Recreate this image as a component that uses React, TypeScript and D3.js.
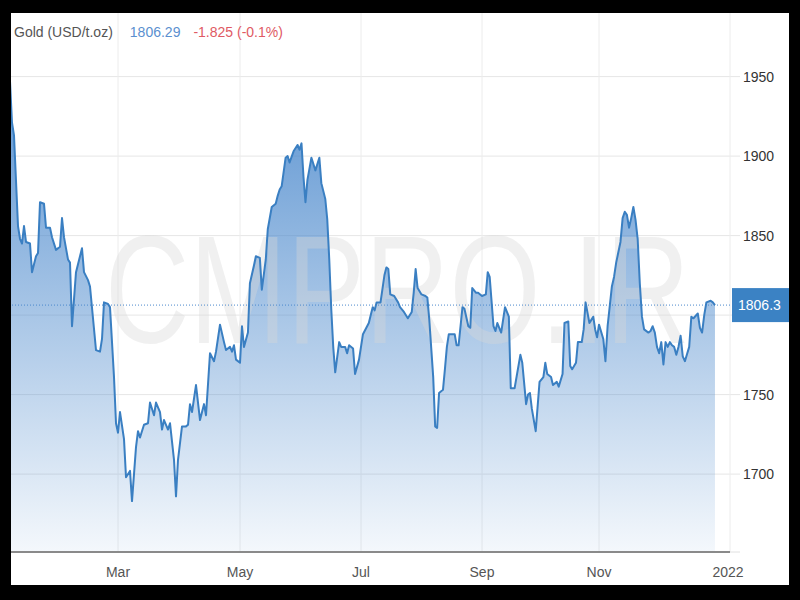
import React from "react";
import * as d3 from "d3";

const dates: string[] = [
  "2021-01-04","2021-01-05","2021-01-06","2021-01-07","2021-01-08","2021-01-10","2021-01-11","2021-01-12","2021-01-13","2021-01-14",
  "2021-01-16","2021-01-17","2021-01-19","2021-01-20","2021-01-21","2021-01-23","2021-01-24","2021-01-26","2021-01-27","2021-01-29",
  "2021-01-31","2021-02-01","2021-02-02","2021-02-04","2021-02-05","2021-02-06","2021-02-08","2021-02-10","2021-02-11","2021-02-12",
  "2021-02-14","2021-02-15","2021-02-18","2021-02-20","2021-02-21","2021-02-22","2021-02-24","2021-02-25","2021-02-27","2021-02-28",
  "2021-03-01","2021-03-02","2021-03-04","2021-03-05","2021-03-07","2021-03-08","2021-03-10","2021-03-11","2021-03-12","2021-03-14",
  "2021-03-16","2021-03-17","2021-03-19","2021-03-20","2021-03-22","2021-03-23","2021-03-24","2021-03-26","2021-03-27","2021-03-29",
  "2021-03-30","2021-03-31","2021-04-02","2021-04-04","2021-04-05","2021-04-06","2021-04-07","2021-04-09","2021-04-10","2021-04-11",
  "2021-04-13","2021-04-14","2021-04-16","2021-04-18","2021-04-19","2021-04-21","2021-04-23","2021-04-24","2021-04-26","2021-04-27",
  "2021-04-28","2021-04-29","2021-05-01","2021-05-02","2021-05-03","2021-05-05","2021-05-06","2021-05-08","2021-05-09","2021-05-11",
  "2021-05-12","2021-05-14","2021-05-15","2021-05-17","2021-05-19","2021-05-20","2021-05-21","2021-05-22","2021-05-24","2021-05-25",
  "2021-05-26","2021-05-28","2021-05-30","2021-05-31","2021-06-01","2021-06-02","2021-06-03","2021-06-04","2021-06-06","2021-06-07",
  "2021-06-08","2021-06-10","2021-06-11","2021-06-13","2021-06-14","2021-06-15","2021-06-16","2021-06-17","2021-06-18","2021-06-20",
  "2021-06-21","2021-06-23","2021-06-24","2021-06-25","2021-06-27","2021-06-28","2021-06-30","2021-07-02","2021-07-05","2021-07-06",
  "2021-07-07","2021-07-08","2021-07-09","2021-07-11","2021-07-13","2021-07-14","2021-07-15","2021-07-16","2021-07-18","2021-07-20",
  "2021-07-21","2021-07-23","2021-07-25","2021-07-27","2021-07-28","2021-07-29","2021-07-30","2021-08-01","2021-08-03","2021-08-04",
  "2021-08-05","2021-08-07","2021-08-08","2021-08-09","2021-08-10","2021-08-12","2021-08-13","2021-08-14","2021-08-15","2021-08-17",
  "2021-08-18","2021-08-19","2021-08-20","2021-08-22","2021-08-23","2021-08-25","2021-08-26","2021-08-27","2021-08-29","2021-08-30",
  "2021-09-01","2021-09-03","2021-09-04","2021-09-05","2021-09-07","2021-09-08","2021-09-09","2021-09-11","2021-09-13","2021-09-15",
  "2021-09-16","2021-09-18","2021-09-21","2021-09-22","2021-09-24","2021-09-25","2021-09-26","2021-09-27","2021-09-29","2021-10-01",
  "2021-10-03","2021-10-04","2021-10-05","2021-10-07","2021-10-08","2021-10-10","2021-10-11","2021-10-13","2021-10-14","2021-10-16",
  "2021-10-17","2021-10-18","2021-10-20","2021-10-21","2021-10-23","2021-10-24","2021-10-25","2021-10-27","2021-10-28","2021-10-29",
  "2021-10-30","2021-10-31","2021-11-01","2021-11-03","2021-11-04","2021-11-05","2021-11-07","2021-11-08","2021-11-09","2021-11-11",
  "2021-11-12","2021-11-13","2021-11-14","2021-11-15","2021-11-16","2021-11-17","2021-11-18","2021-11-19","2021-11-20","2021-11-21",
  "2021-11-22","2021-11-24","2021-11-25","2021-11-26","2021-11-27","2021-11-28","2021-11-29","2021-11-30","2021-12-01","2021-12-02",
  "2021-12-03","2021-12-04","2021-12-05","2021-12-06","2021-12-07","2021-12-08","2021-12-09","2021-12-10","2021-12-11","2021-12-13",
  "2021-12-14","2021-12-15","2021-12-17","2021-12-18","2021-12-19","2021-12-20","2021-12-21","2021-12-23","2021-12-24","2021-12-25",
];

const prices: number[] = [
  1944,1950,1947,1921,1913,1856,1848,1845,1856,1846,
  1845,1827,1837,1839,1871,1870,1855,1855,1849,1841,
  1843,1861,1849,1835,1833,1793,1827,1837,1842,1827,
  1822,1818,1778,1777,1785,1808,1807,1805,1761,1732,
  1726,1739,1722,1698,1702,1683,1717,1727,1723,1731,
  1732,1745,1737,1745,1739,1728,1734,1728,1732,1709,
  1686,1709,1730,1730,1731,1744,1739,1756,1745,1734,
  1744,1737,1776,1771,1777,1794,1783,1778,1780,1777,
  1781,1772,1770,1793,1780,1789,1820,1831,1837,1836,
  1816,1835,1854,1868,1870,1875,1879,1881,1899,1900,
  1896,1903,1907,1904,1908,1887,1871,1885,1899,1895,
  1891,1899,1883,1873,1860,1835,1804,1780,1764,1783,
  1780,1780,1776,1781,1779,1763,1772,1788,1795,1800,
  1805,1803,1808,1808,1825,1830,1829,1813,1812,1808,
  1805,1802,1798,1802,1814,1829,1817,1813,1812,1811,
  1797,1761,1730,1729,1751,1753,1766,1780,1788,1788,
  1788,1781,1781,1805,1804,1793,1792,1817,1814,1814,
  1812,1813,1827,1824,1793,1790,1795,1789,1805,1799,
  1754,1754,1775,1770,1744,1750,1751,1741,1727,1758,
  1761,1770,1763,1761,1756,1758,1755,1763,1795,1796,
  1768,1766,1770,1783,1783,1791,1808,1795,1797,1799,
  1791,1786,1794,1785,1771,1793,1818,1824,1833,1846,
  1861,1865,1863,1855,1861,1868,1860,1848,1820,1799,
  1791,1789,1790,1793,1789,1780,1776,1783,1769,1783,
  1780,1783,1781,1780,1775,1780,1787,1774,1771,1780,
  1799,1798,1801,1792,1789,1800,1808,1809,1808,1806.29,
];

const tickDates: string[] = ["2021-01-01","2021-03-01","2021-05-01","2021-07-01","2021-09-01","2021-11-01","2022-01-01"];
const tickLabels: string[] = ["", "Mar", "May", "Jul", "Sep", "Nov", "2022"];
const yTicks: number[] = [1700, 1750, 1800, 1850, 1900, 1950];
const yLabels: string[] = ["1700", "1750", "", "1850", "1900", "1950"];

const seriesName = "Gold (USD/t.oz)";
const lastValue = 1806.29;
const changeText = "-1.825 (-0.1%)";
const lastLabel = "1806.3";
const watermark = "CMPRO.IR";

const parse = d3.timeParse("%Y-%m-%d");

export default function App() {
  const W = 800, H = 600;
  const inner = { x0: 11, y0: 13, x1: 789, y1: 585 };
  const plotRight = 730;
  const plotBottom = 552;

  const tDates = tickDates.map((s) => parse(s) as Date);
  const x = d3.scaleTime().domain(tDates).range([0, 118, 240, 361, 482, 599, 730]);
  const y = d3.scaleLinear().domain([1651, 1990]).range([plotBottom, inner.y0]);

  const data = dates.map((s, i) => ({ d: parse(s) as Date, v: prices[i] }));
  const line = d3.line<{ d: Date; v: number }>().x((p) => x(p.d)).y((p) => y(p.v));
  const area = d3
    .area<{ d: Date; v: number }>()
    .x((p) => x(p.d))
    .y0(plotBottom)
    .y1((p) => y(p.v));

  const maxV = d3.max(prices) as number;
  const font = "'Liberation Sans', Arial, sans-serif";
  const lastY = y(lastValue);

  return (
    <svg
      width={W}
      height={H}
      viewBox={`0 0 ${W} ${H}`}
      style={{ position: "absolute", left: 0, top: 0, display: "block" }}
      fontFamily={font}
    >
      <defs>
        <clipPath id="inner">
          <rect x={inner.x0} y={inner.y0} width={inner.x1 - inner.x0} height={inner.y1 - inner.y0} />
        </clipPath>
        <linearGradient id="fillGrad" gradientUnits="userSpaceOnUse" x1="0" y1={y(maxV)} x2="0" y2={plotBottom}>
          <stop offset="0" stopColor="#4a88cc" stopOpacity={0.9} />
          <stop offset="1" stopColor="#4a88cc" stopOpacity={0.06} />
        </linearGradient>
      </defs>
      <rect x={0} y={0} width={W} height={H} fill="#000" />
      <rect x={inner.x0} y={inner.y0} width={inner.x1 - inner.x0} height={inner.y1 - inner.y0} fill="#fff" />
      <g clipPath="url(#inner)">
        {yTicks.map((t) => (
          <line key={"h" + t} x1={0} x2={plotRight + 10} y1={y(t)} y2={y(t)} stroke="#e6e6e6" strokeWidth={1} />
        ))}
        {tDates.slice(1).map((d, i) => (
          <line key={"v" + i} x1={x(d)} x2={x(d)} y1={inner.y0} y2={plotBottom} stroke="#ececec" strokeWidth={1} />
        ))}
        <path d={area(data) as string} fill="url(#fillGrad)" />
      </g>
      <text
        transform="translate(105,343) scale(1,1.32)"
        x={0}
        y={0}
        fontSize={117}
        fill="#d8d8d8"
        fillOpacity={0.38}
        fontFamily={font}
      >
        {watermark}
      </text>
      <g clipPath="url(#inner)">
        <line x1={0} x2={plotRight} y1={lastY} y2={lastY} stroke="#4a88cc" strokeWidth={1} strokeDasharray="1,2" />
        <path d={line(data) as string} fill="none" stroke="#3a7fc2" strokeWidth={2} strokeLinejoin="round" />
        <line x1={0} x2={plotRight} y1={plotBottom} y2={plotBottom} stroke="#8a8a8a" strokeWidth={2} />
        <line x1={plotRight} x2={plotRight + 10} y1={plotBottom} y2={plotBottom} stroke="#e0e0e0" strokeWidth={1} />
      </g>
      {tDates.map((d, i) =>
        tickLabels[i] ? (
          <text key={"xl" + i} x={x(d) - (i === tDates.length - 1 ? 2 : 0)} y={577} fontSize={14} fill="#555" textAnchor="middle">
            {tickLabels[i]}
          </text>
        ) : null
      )}
      {yTicks.map((t, i) =>
        yLabels[i] ? (
          <text key={"yl" + t} x={743} y={y(t) + 5} fontSize={14} fill="#333">
            {yLabels[i]}
          </text>
        ) : null
      )}
      <rect x={plotRight + 2} y={lastY - 17} width={57} height={34} fill="#3b82c4" />
      <text x={plotRight + 8} y={lastY + 5} fontSize={14} fill="#fff">
        {lastLabel}
      </text>
      <text x={14} y={37} fontSize={14}>
        <tspan fill="#555">{seriesName}</tspan>
        <tspan fill="#5b8fcf" dx={17}>{d3.format(".2f")(lastValue)}</tspan>
        <tspan fill="#e05a64" dx={13}>{changeText}</tspan>
      </text>
    </svg>
  );
}
